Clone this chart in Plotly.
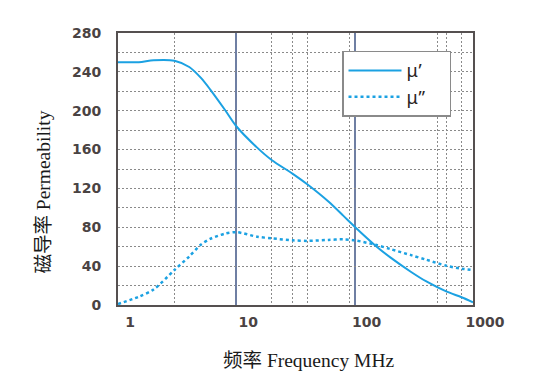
import plotly.graph_objects as go

# Frequency points (MHz)
freq = [1, 1.5, 2, 3, 4, 5, 6, 8, 10, 15, 20, 30, 40, 60, 80, 100, 150, 200, 300, 400, 600, 800, 1000]
# μ' (real part) readings
mu_real = [250, 250, 252, 251.5, 245, 234, 222, 201, 184, 162, 149, 135, 124, 106.5, 92, 80.5, 61, 49, 34, 24.5, 13.7, 8, 2.8]
# μ'' (imaginary part) readings
mu_imag = [1, 8.5, 16, 36, 50, 62, 68, 73.4, 75, 70.3, 68.6, 66.6, 66, 67, 67.6, 66.6, 62, 57.6, 51.3, 46.7, 40.3, 37.4, 36]

x_ticks = [1, 10, 100, 1000]
x_tick_text = ["1", "10", "100", "1000"]
x_minor_grid = [3, 20, 30, 40, 90, 500, 600, 800]
y_ticks = [0, 40, 80, 120, 160, 200, 240, 280]

line_color = "#1BA1E2"
frame_color = "#555050"
tick_color = "#4a4343"
grid_color = "#8a8a8a"

fig = go.Figure()
fig.add_trace(go.Scatter(x=freq, y=mu_real, mode="lines", name="μ’\u00a0\u00a0\u00a0\u00a0",
                         line=dict(color=line_color, width=2, shape="spline", smoothing=0.8)))
fig.add_trace(go.Scatter(x=freq, y=mu_imag, mode="lines", name="μ”\u00a0\u00a0\u00a0\u00a0",
                         line=dict(color=line_color, width=2.5, dash="dot", shape="spline", smoothing=0.8)))

fig.update_layout(
    width=533, height=381,
    margin=dict(l=110, r=68, t=25, b=84),
    paper_bgcolor="white", plot_bgcolor="white",
    showlegend=True,
    legend=dict(x=0.631, y=0.935, xanchor="left", yanchor="top",
                bgcolor="white", bordercolor="#8a8a8a", borderwidth=1.5,
                font=dict(family="Noto Sans", size=18, color="#2a2424"),
                itemwidth=53),
    xaxis=dict(type="log", range=[0, 3], tickmode="array", tickvals=x_ticks, ticktext=x_tick_text,
               showgrid=True, gridcolor="#6f7fa3", gridwidth=2,
               showline=True, linecolor=frame_color, linewidth=2, mirror=True,
               ticks="", ticklabelstandoff=3, ticklabelshift=12,
               tickfont=dict(family="DejaVu Sans", size=14, color=tick_color, weight="bold"),
               minor=dict(tickmode="array", tickvals=x_minor_grid, showgrid=True,
                          gridcolor=grid_color, gridwidth=1, griddash="2px,2px", ticks=""),
               zeroline=False),
    yaxis=dict(range=[0, 280], tickmode="array", tickvals=y_ticks,
               showgrid=True, gridcolor=grid_color, gridwidth=1, griddash="2px,2px",
               showline=True, linecolor=frame_color, linewidth=2, mirror=True,
               ticks="", ticklabelstandoff=12,
               tickfont=dict(family="DejaVu Sans", size=14, color=tick_color, weight="bold"),
               minor=dict(dtick=20, showgrid=True, gridcolor=grid_color, gridwidth=1,
                          griddash="2px,2px", ticks=""),
               zeroline=False),
    annotations=[
        dict(text="频率 Frequency MHz", xref="paper", yref="paper", x=0.537, y=-0.205,
             xanchor="center", yanchor="middle", showarrow=False,
             font=dict(family="Liberation Serif, Noto Sans CJK SC", size=19.5, color="#1a1a1a")),
        dict(text="磁导率 Permeability", xref="paper", yref="paper", x=-0.21, y=0.415,
             xanchor="center", yanchor="middle", showarrow=False, textangle=-90,
             font=dict(family="Liberation Serif, Noto Sans CJK SC", size=19.5, color="#1a1a1a")),
    ],
)

fig.write_html("out.html")
